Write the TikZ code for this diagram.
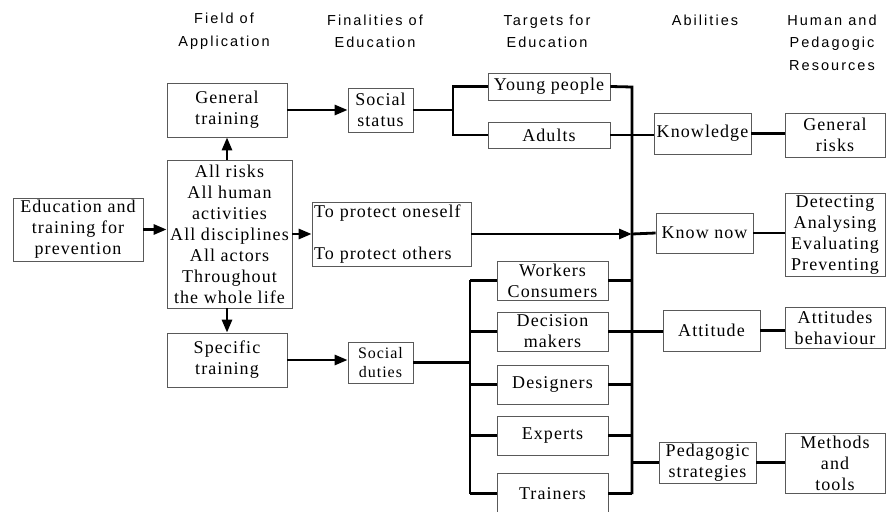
\documentclass[tikz,border=0pt]{standalone}
\usepackage{fontspec}
\setmainfont{Liberation Serif}[LetterSpace=6]
\newfontfamily\hdrfont{Liberation Sans}[LetterSpace=14]
\usetikzlibrary{arrows.meta}

\newcommand{\boxtxt}{\fontsize{18bp}{21bp}\selectfont}
\newcommand{\smalltxt}{\fontsize{16bp}{19bp}\selectfont}
\newcommand{\hdrtxt}{\hdrfont\fontsize{14.5bp}{22.5bp}\selectfont}

\tikzset{
  box/.style={draw=black!65, line width=0.8bp, inner sep=1bp, align=center, font=\boxtxt},
  hdr/.style={inner sep=0pt, align=center, font=\hdrtxt},
  link/.style={line width=2.8bp, black},
  arr/.style={link, -{Triangle[length=13bp,width=10bp]}}
}

\begin{document}
\begin{tikzpicture}[x=1bp, y=-1bp]
\useasboundingbox (0,0) rectangle (887,512);

% column headings
\node[hdr] (hField) at (224,31.5) {Field of\\Application};
\node[hdr] (hFinal) at (375,31.5) {Finalities of\\Education};
\node[hdr] (hTarget) at (547,31.5) {Targets for\\Education};
\node[hdr] (hAbil) at (705,20) {Abilities};
\node[hdr] (hRes) at (832,42.5) {Human and\\Pedagogic\\Resources};

% field of application
\node[box, minimum width=130bp, minimum height=63bp] (edu) at (78,229.5) {Education and\\training for\\prevention};
\node[box, minimum width=125bp, minimum height=148bp] (all) at (229.5,234) {All risks\\All human\\activities\\All disciplines\\All actors\\Throughout\\the whole life};
\node[box, minimum width=120bp, minimum height=54bp] (gen) at (227,110) {General\\training};
\node[box, minimum width=120bp, minimum height=54bp] (spec) at (227,360) {Specific\\training};

% finalities
\node[box, minimum width=65bp, minimum height=44bp] (sstat) at (380.5,110) {Social\\status};
\node[box, minimum width=65bp, minimum height=41bp, font=\smalltxt] (sduty) at (380.5,362.5) {Social\\duties};
\node[box, minimum width=159bp, minimum height=64bp, text width=155bp, align=left] (prot) at (391.5,234) {To protect oneself\\[21bp]To protect others};

% targets
\node[box, minimum width=122bp, minimum height=27bp] (young) at (549,86.5) {Young people};
\node[box, minimum width=122bp, minimum height=26bp] (adult) at (549,135) {Adults};
\node[box, minimum width=111bp, minimum height=39bp] (work) at (552.5,280.5) {Workers\\Consumers};
\node[box, minimum width=111bp, minimum height=39bp] (deci) at (552.5,331.5) {Decision\\makers};
\node[box, minimum width=111bp, minimum height=39bp] (desi) at (552.5,384.5) {Designers};
\node[box, minimum width=111bp, minimum height=39bp] (expe) at (552.5,435.5) {Experts};
\node[box, minimum width=111bp, minimum height=41bp] (trai) at (552.5,493.5) {Trainers};

% abilities
\node[box, minimum width=97bp, minimum height=41bp] (know) at (702.5,133.5) {Knowledge};
\node[box, minimum width=97bp, minimum height=40bp] (knownow) at (704.5,233) {Know now};
\node[box, minimum width=97bp, minimum height=41bp] (atti) at (711.5,330.5) {Attitude};
\node[box, minimum width=97bp, minimum height=41bp] (peda) at (707.5,462.5) {Pedagogic\\strategies};

% resources
\node[box, minimum width=100bp, minimum height=44bp] (grisk) at (835,135) {General\\risks};
\node[box, minimum width=100bp, minimum height=83bp] (detect) at (835,234.5) {Detecting\\Analysing\\Evaluating\\Preventing};
\node[box, minimum width=100bp, minimum height=41bp] (attb) at (835,327.5) {Attitudes\\behaviour};
\node[box, minimum width=100bp, minimum height=60bp] (meth) at (835,463) {Methods\\and\\tools};

% junction points of the two buses
\coordinate (jA) at (453,110);
\coordinate (jB) at (470,362);
\coordinate (busTop) at (632,87);
\coordinate (busBot) at (632,494);

% arrows out of the field of application
\draw[arr] (edu.east) -- (edu.east -| all.west);
\draw[arr] (gen.south |- all.north) -- (gen.south);
\draw[arr] (spec.north |- all.south) -- (spec.north);
\draw[arr] (all.east) -- (prot.west);
\draw[arr] (gen.east) -- (gen.east -| sstat.west);
\draw[arr] (spec.east) -- (spec.east -| sduty.west);

% general training branch
\draw[link] (sstat.east) -- (jA);
\draw[link] (young.west) -- (young.west -| jA) -- (adult.west -| jA) -- (adult.west);

% specific training branch
\draw[link] (sduty.east) -- (sduty.east -| jB);
\draw[link] (work.west -| jB) -- (trai.west -| jB);
\foreach \t in {work,deci,desi,expe,trai}
  \draw[link] (\t.west -| jB) -- (\t.west);

% collecting bus towards the abilities
\draw[link] (young.east) -- (busTop) -- (busBot);
\foreach \t in {work,desi,expe,trai}
  \draw[link] (\t.east) -- (\t.east -| busTop);
\draw[link] (adult.east) -- (adult.east -| know.west);
\draw[link] (deci.east) -- (deci.east -| atti.west);
\draw[arr] (prot.east) -- (prot.east -| busTop);
\draw[link] (prot.east -| busTop) -- (knownow.west);
\draw[link] (peda.west -| busTop) -- (peda.west);

% abilities to resources
\draw[link] (know.east) -- (know.east -| grisk.west);
\draw[link] (knownow.east) -- (knownow.east -| detect.west);
\draw[link] (atti.east) -- (atti.east -| attb.west);
\draw[link] (peda.east) -- (peda.east -| meth.west);
\end{tikzpicture}
\end{document}
